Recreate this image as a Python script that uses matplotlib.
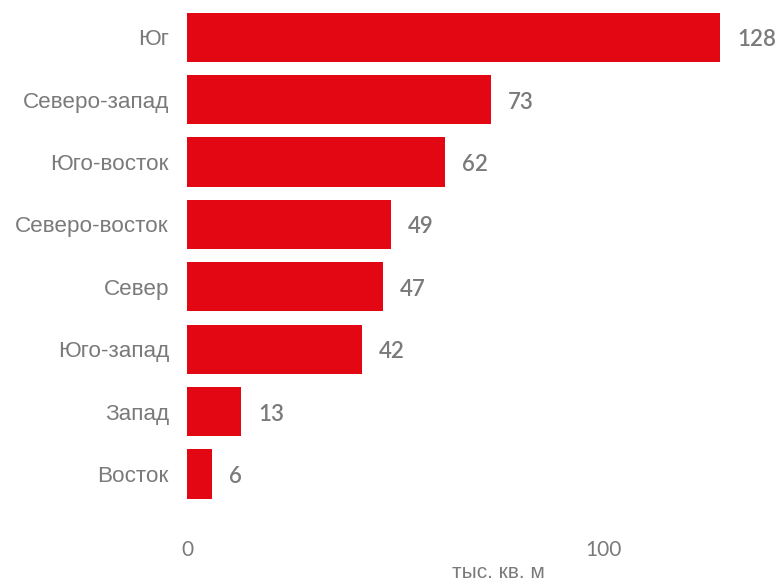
import matplotlib.pyplot as plt

# Площади по районам, тыс. кв. м
districts = ["Юг", "Северо-запад", "Юго-восток", "Северо-восток",
             "Север", "Юго-запад", "Запад", "Восток"]
values = [128, 73, 62, 49, 47, 42, 13, 6]
xticks = [0, 100]
unit_label = "тыс. кв. м"

red = "#e30613"
grey = "#7a7a7a"

fig = plt.figure(figsize=(7.82, 5.81), dpi=100)
ax = fig.add_axes([187 / 782, 51 / 581, 595 / 782, 530 / 581])

ypos = range(len(districts))
ax.barh(ypos, values, height=0.79, color=red)
ax.set_ylim(7.9, -0.6)
ax.set_xlim(0, 143)

for y, v in zip(ypos, values):
    ax.text(v + 4.2, y + 0.04, str(v), va="center", ha="left",
            fontsize=16, color=grey, family="Lato", fontweight="semibold")

ax.set_yticks(list(ypos))
ax.set_yticklabels(districts, family="Liberation Sans", fontsize=16.2, color=grey)
ax.set_xticks(xticks)
ax.set_xticklabels([str(t) for t in xticks], family="Lato", fontsize=15, color=grey)
ax.tick_params(length=0, axis="y", pad=13)
ax.tick_params(length=0, axis="x", pad=7)
for s in ax.spines.values():
    s.set_visible(False)

fig.text(498 / 782, 1 - 572 / 581, unit_label, ha="center", va="center",
         family="Liberation Sans", fontsize=15, color=grey)

fig.savefig("out.png", dpi=100)
